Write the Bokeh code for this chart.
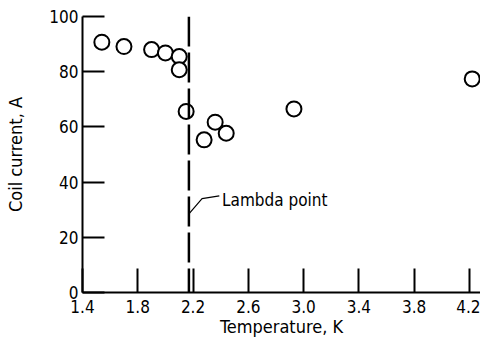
from bokeh.plotting import figure
from bokeh.models import FixedTicker, Span, Range1d
from bokeh.core.properties import value
from bokeh.embed import file_html
from bokeh.resources import INLINE

temps = [1.54, 1.70, 1.90, 2.00, 2.10, 2.10, 2.15, 2.28, 2.36, 2.44, 2.93, 4.22]
currents = [90.7, 89.1, 88.0, 86.8, 85.5, 80.7, 65.6, 55.3, 61.7, 57.7, 66.5, 77.4]
x_ticks = [1.4, 1.8, 2.2, 2.6, 3.0, 3.4, 3.8, 4.2]
y_ticks = [0, 20, 40, 60, 80, 100]
lambda_temp = 2.17
lambda_label = "Lambda point"

FONT = "DejaVu Sans Condensed"

p = figure(width=480, height=341, output_backend="svg", toolbar_location=None,
           x_range=Range1d(1.4, 4.28), y_range=Range1d(0, 100),
           min_border_left=82, min_border_right=0, min_border_top=16, min_border_bottom=49)
p.outline_line_color = None
p.xgrid.grid_line_color = None
p.ygrid.grid_line_color = None

for ax in (p.xaxis[0], p.yaxis[0]):
    ax.major_tick_out = 0
    ax.minor_tick_line_color = None
    ax.axis_line_width = 2
    ax.major_tick_line_width = 2
    ax.axis_line_color = "black"
    ax.major_tick_line_color = "black"
    ax.major_label_text_font = FONT
    ax.major_label_text_font_size = "17px"
    ax.major_label_text_color = "black"
    ax.axis_label_text_font = FONT
    ax.axis_label_text_font_size = "18px"
    ax.axis_label_text_font_style = "normal"
    ax.axis_label_text_color = "black"

p.xaxis.ticker = FixedTicker(ticks=x_ticks)
p.yaxis.ticker = FixedTicker(ticks=y_ticks)
p.xaxis.major_label_overrides = {t: f"{t:.1f}" for t in x_ticks}
p.xaxis.major_tick_in = 24
p.yaxis.major_tick_in = 22
p.xaxis.major_label_standoff = 7
p.yaxis.major_label_standoff = 4
p.xaxis.axis_label = "Temperature, K"
p.yaxis.axis_label = "Coil current, A"
p.xaxis.axis_label_standoff = 0
p.yaxis.axis_label_standoff = 20

span = Span(location=lambda_temp, dimension="height", line_color="black",
            line_width=2.5, line_dash="30 6")
p.add_layout(span)

p.line([lambda_temp, 2.265, 2.39], [28.5, 34, 35], line_color="black", line_width=1.2)
p.text([2.41], [33.5], text=[lambda_label], text_font=value(FONT),
       text_font_size="17px", text_baseline="middle", text_align="left", text_color="black")

p.scatter(temps, currents, marker="circle", size=15, fill_color="white",
          line_color="black", line_width=2)

open("out.html", "w").write(file_html(p, INLINE))
